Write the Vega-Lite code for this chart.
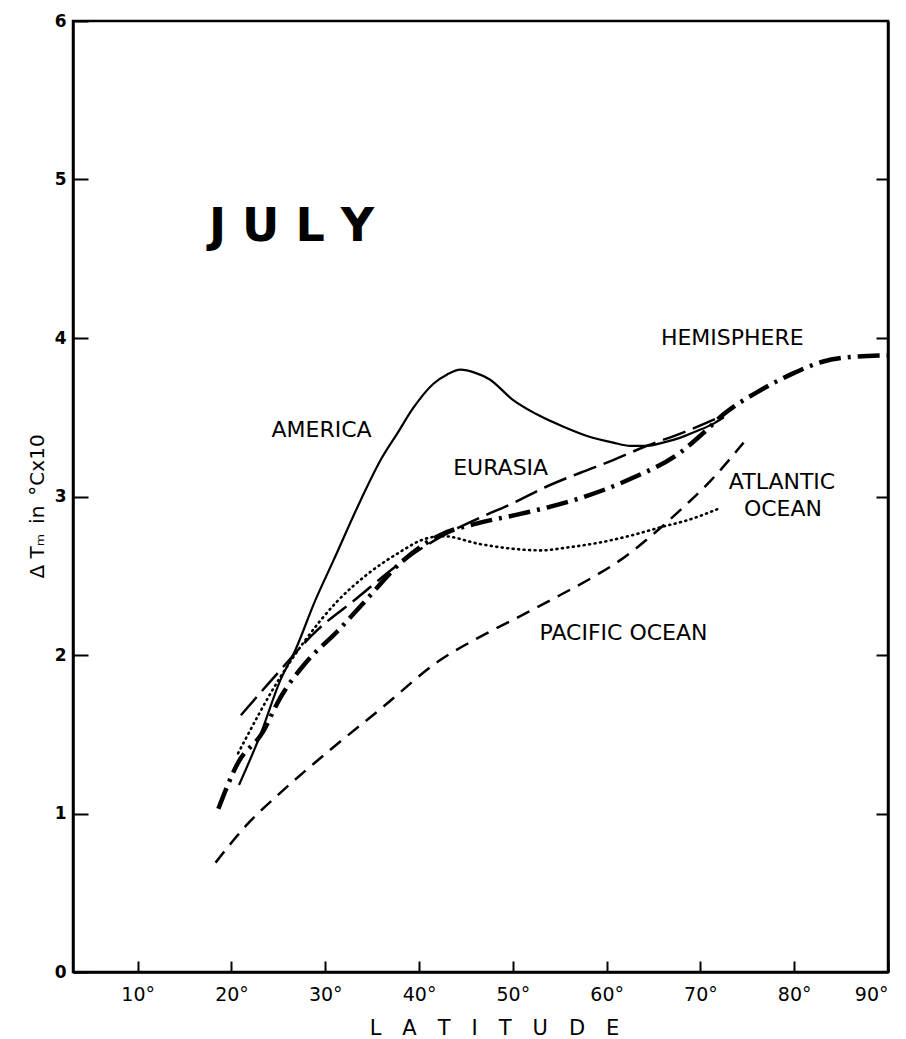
{
  "$schema": "https://vega.github.io/schema/vega-lite/v6.json",
  "width": 815,
  "height": 951,
  "autosize": {"type": "none"},
  "padding": {"left": 73, "top": 21, "right": 18, "bottom": 67},
  "background": "white",
  "config": {
    "view": {"stroke": "black", "strokeWidth": 2.5},
    "font": "DejaVu Sans",
    "axis": {"domainColor": "black", "domainWidth": 2.5, "tickColor": "black", "tickWidth": 2, "labelColor": "black", "titleColor": "black", "grid": false}
  },
  "datasets": {
    "america": [
      {"lat": 20.8, "v": 1.18}, {"lat": 23.1, "v": 1.50}, {"lat": 25.2, "v": 1.84}, {"lat": 26.8, "v": 2.03},
      {"lat": 28.9, "v": 2.34}, {"lat": 30.9, "v": 2.60}, {"lat": 33.8, "v": 2.98}, {"lat": 35.9, "v": 3.23},
      {"lat": 37.7, "v": 3.40}, {"lat": 39.4, "v": 3.56}, {"lat": 41.5, "v": 3.71}, {"lat": 43.0, "v": 3.77},
      {"lat": 44.4, "v": 3.80}, {"lat": 46.0, "v": 3.78}, {"lat": 47.5, "v": 3.74}, {"lat": 50.0, "v": 3.61},
      {"lat": 52.5, "v": 3.52}, {"lat": 55.4, "v": 3.44}, {"lat": 58.0, "v": 3.38}, {"lat": 60.7, "v": 3.34},
      {"lat": 62.5, "v": 3.32}, {"lat": 64.3, "v": 3.32}, {"lat": 66.0, "v": 3.34}, {"lat": 67.8, "v": 3.37},
      {"lat": 69.5, "v": 3.41}, {"lat": 71.4, "v": 3.46}, {"lat": 72.5, "v": 3.50}
    ],
    "eurasia": [
      {"lat": 21.0, "v": 1.62}, {"lat": 24.1, "v": 1.83}, {"lat": 29.2, "v": 2.16}, {"lat": 33.2, "v": 2.35},
      {"lat": 38.0, "v": 2.58}, {"lat": 41.0, "v": 2.70}, {"lat": 44.1, "v": 2.80}, {"lat": 47.0, "v": 2.88},
      {"lat": 50.1, "v": 2.96}, {"lat": 53.5, "v": 3.06}, {"lat": 57.2, "v": 3.15}, {"lat": 60.7, "v": 3.23},
      {"lat": 64.3, "v": 3.32}, {"lat": 68.0, "v": 3.40}, {"lat": 71.6, "v": 3.49}
    ],
    "hemisphere": [
      {"lat": 18.6, "v": 1.03}, {"lat": 20.7, "v": 1.32}, {"lat": 23.3, "v": 1.51}, {"lat": 25.2, "v": 1.73},
      {"lat": 27.9, "v": 1.95}, {"lat": 31.3, "v": 2.15}, {"lat": 34.1, "v": 2.33}, {"lat": 38.0, "v": 2.58},
      {"lat": 42.0, "v": 2.75}, {"lat": 46.2, "v": 2.83}, {"lat": 50.8, "v": 2.89}, {"lat": 57.2, "v": 2.99},
      {"lat": 62.5, "v": 3.11}, {"lat": 67.9, "v": 3.28}, {"lat": 70.3, "v": 3.40}, {"lat": 72.5, "v": 3.52},
      {"lat": 76.4, "v": 3.67}, {"lat": 80.0, "v": 3.78}, {"lat": 83.0, "v": 3.85}, {"lat": 86.0, "v": 3.88},
      {"lat": 90.0, "v": 3.89}
    ],
    "atlantic": [
      {"lat": 20.7, "v": 1.38}, {"lat": 25.2, "v": 1.86}, {"lat": 27.7, "v": 2.08}, {"lat": 31.3, "v": 2.34},
      {"lat": 34.5, "v": 2.51}, {"lat": 37.7, "v": 2.64}, {"lat": 40.5, "v": 2.73}, {"lat": 42.5, "v": 2.75},
      {"lat": 46.5, "v": 2.70}, {"lat": 50.0, "v": 2.67}, {"lat": 53.0, "v": 2.66}, {"lat": 56.0, "v": 2.68},
      {"lat": 59.3, "v": 2.71}, {"lat": 63.0, "v": 2.76}, {"lat": 66.0, "v": 2.81}, {"lat": 68.6, "v": 2.85},
      {"lat": 71.8, "v": 2.92}
    ],
    "pacific": [
      {"lat": 18.3, "v": 0.69}, {"lat": 21.5, "v": 0.92}, {"lat": 25.2, "v": 1.13}, {"lat": 30.5, "v": 1.40},
      {"lat": 35.9, "v": 1.66}, {"lat": 42.3, "v": 1.97}, {"lat": 47.0, "v": 2.13}, {"lat": 51.6, "v": 2.27},
      {"lat": 55.1, "v": 2.38}, {"lat": 58.5, "v": 2.49}, {"lat": 61.5, "v": 2.60}, {"lat": 65.7, "v": 2.80},
      {"lat": 68.5, "v": 2.95}, {"lat": 71.1, "v": 3.10}, {"lat": 74.6, "v": 3.34}
    ],
    "labels": [
      {"lat": 29.6, "v": 3.42, "text": "AMERICA"},
      {"lat": 48.7, "v": 3.18, "text": "EURASIA"},
      {"lat": 73.4, "v": 4.0, "text": "HEMISPHERE"},
      {"lat": 78.7, "v": 3.09, "text": "ATLANTIC"},
      {"lat": 78.8, "v": 2.92, "text": "OCEAN"},
      {"lat": 61.8, "v": 2.14, "text": "PACIFIC OCEAN"}
    ],
    "title": [
      {"lat": 26.4, "v": 4.70, "text": "J U L Y"}
    ]
  },
  "resolve": {"axis": {"y": "independent"}},
  "layer": [
    {
      "data": {"name": "america"},
      "mark": {"type": "line", "interpolate": "monotone", "color": "black", "strokeWidth": 2.2},
      "encoding": {
        "x": {"field": "lat", "type": "quantitative", "scale": {"domain": [3.1, 90], "nice": false, "zero": false},
          "axis": {"values": [10, 20, 30, 40, 50, 60, 70, 80, 90], "labelExpr": "datum.value + '°'", "tickSize": -11, "labelPadding": 24, "labelFontSize": 19, "labelFont": "DejaVu Sans",
            "title": "L\u2003A\u2003T\u2003I\u2003T\u2003U\u2003D\u2003E", "titleFontSize": 21, "titleFontWeight": "normal", "titleX": 421, "titleY": 56, "titleBaseline": "middle"}},
        "y": {"field": "v", "type": "quantitative", "scale": {"domain": [0, 6], "nice": false},
          "axis": {"orient": "left", "values": [0, 1, 2, 3, 4, 5, 6], "tickSize": -15, "labelPadding": 22, "labelFontSize": 17, "labelFontWeight": "bold", "labelFont": "DejaVu Sans",
            "title": "Δ Tₘ\u2002in\u2002°Cx10", "titleFontSize": 20, "titleFontWeight": "normal", "titleAngle": -90, "titleX": -36, "titleY": 485, "titleAlign": "center", "titleBaseline": "middle"}}
      }
    },
    {
      "data": {"name": "eurasia"},
      "mark": {"type": "line", "interpolate": "monotone", "color": "black", "strokeWidth": 2.5, "strokeDash": [24, 8]},
      "encoding": {
        "x": {"field": "lat", "type": "quantitative"},
        "y": {"field": "v", "type": "quantitative",
          "axis": {"orient": "right", "values": [1, 2, 3, 4, 5], "tickSize": -12, "labels": false, "title": null}}
      }
    },
    {
      "data": {"name": "hemisphere"},
      "mark": {"type": "line", "interpolate": "monotone", "color": "black", "strokeWidth": 4.5, "strokeDash": [22, 7, 3, 7]},
      "encoding": {
        "x": {"field": "lat", "type": "quantitative"},
        "y": {"field": "v", "type": "quantitative", "axis": null}
      }
    },
    {
      "data": {"name": "atlantic"},
      "mark": {"type": "line", "interpolate": "monotone", "color": "black", "strokeWidth": 2.6, "strokeDash": [1, 4.5], "strokeCap": "round"},
      "encoding": {
        "x": {"field": "lat", "type": "quantitative"},
        "y": {"field": "v", "type": "quantitative", "axis": null}
      }
    },
    {
      "data": {"name": "pacific"},
      "mark": {"type": "line", "interpolate": "monotone", "color": "black", "strokeWidth": 2.5, "strokeDash": [14, 9]},
      "encoding": {
        "x": {"field": "lat", "type": "quantitative"},
        "y": {"field": "v", "type": "quantitative", "axis": null}
      }
    },
    {
      "data": {"name": "labels"},
      "mark": {"type": "text", "font": "DejaVu Sans", "fontSize": 22, "color": "black", "align": "center", "baseline": "middle"},
      "encoding": {
        "x": {"field": "lat", "type": "quantitative"},
        "y": {"field": "v", "type": "quantitative", "axis": null},
        "text": {"field": "text", "type": "nominal"}
      }
    },
    {
      "data": {"name": "title"},
      "mark": {"type": "text", "font": "DejaVu Sans", "fontSize": 46, "fontWeight": "bold", "color": "black", "align": "center", "baseline": "middle"},
      "encoding": {
        "x": {"field": "lat", "type": "quantitative"},
        "y": {"field": "v", "type": "quantitative", "axis": null},
        "text": {"field": "text", "type": "nominal"}
      }
    }
  ]
}
